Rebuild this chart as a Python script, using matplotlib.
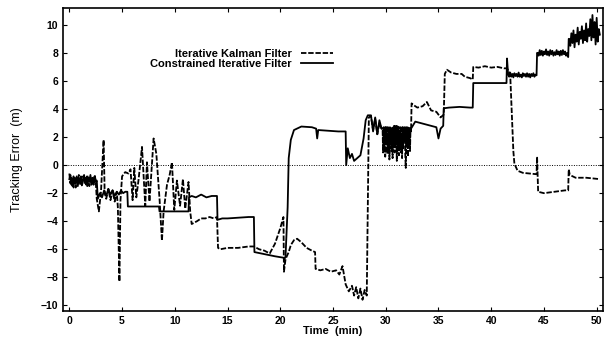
import matplotlib
matplotlib.use("Agg")
import matplotlib.pyplot as plt

# Iterative Kalman Filter (dashed), in three pieces
t_kalman_a = [0.0, 0.1, 0.2, 0.3, 0.4, 0.5, 0.6, 0.7, 0.8, 0.9, 1.0, 1.1, 1.2, 1.3,
              1.4, 1.5, 1.6, 1.7, 1.8, 1.9, 2.0, 2.1, 2.2, 2.3, 2.4, 2.5, 2.6,
              2.8, 3.0, 3.1, 3.25, 3.35, 3.5, 3.7, 3.9, 4.1, 4.3, 4.5, 4.6, 4.75, 4.85,
              5.0, 5.3, 5.6, 5.8, 6.0, 6.16, 6.35, 6.57, 6.89, 7.2, 7.36, 7.6, 7.99,
              8.25, 8.56, 8.78, 8.94, 9.26, 9.51, 9.73, 9.95, 10.2, 10.5, 10.77, 10.99,
              11.3, 11.46, 11.6, 12.1, 12.5, 12.9, 13.3, 13.7, 14.0, 14.1, 14.3, 15.0,
              16.0, 17.0, 17.5, 18.0, 18.5, 19.0, 19.5, 20.0, 20.3, 20.35, 20.5, 20.8,
              21.0, 21.3, 21.6, 22.0, 22.5, 23.0, 23.3, 23.35, 23.8, 24.3, 24.8, 25.3,
              25.6, 25.9, 26.2, 26.5, 26.8, 27.0, 27.2, 27.4, 27.6, 27.8, 28.0, 28.2,
              28.4, 28.6, 28.8, 29.0, 29.2, 29.4, 29.6]
e_kalman_a = [-0.6, -1.3, -0.9, -1.5, -0.8, -1.2, -1.6, -0.9, -1.3, -0.7, -1.4, -1.0, -1.5, -0.8,
              -1.2, -0.9, -1.4, -0.7, -1.1, -1.5, -0.8, -1.3, -0.9, -1.4, -0.7, -1.1, -2.4,
              -3.3, -1.9, -0.4, 1.8, -2.0, -2.4, -1.7, -2.5, -1.8, -2.6, -1.9, -3.0, -8.3, -2.5,
              -0.8, -0.5, -0.6, -0.3, -2.5, -0.2, -2.3, -1.0, 1.3, -2.9, 0.2, -2.6, 1.9,
              0.8, -2.5, -5.4, -3.3, -1.4, -0.7, 0.2, -3.2, -1.1, -2.9, -1.0, -3.1,
              -1.2, -3.3, -4.2, -4.0, -3.8, -3.8, -3.7, -3.8, -3.7, -5.9, -6.0, -5.9,
              -5.9, -5.8, -5.8, -6.0, -6.1, -6.3, -5.6, -4.5, -3.7, -7.6, -6.7, -6.2,
              -5.7, -5.35, -5.25, -5.5, -5.9, -6.1, -6.2, -7.4, -7.5, -7.4, -7.6, -7.5,
              -7.8, -7.2, -8.5, -9.0, -8.6, -9.3, -8.7, -9.5, -8.8, -9.6, -8.9, -9.3,
              3.4, 3.5, 2.5, 3.3, 2.2, 3.0, 2.6]
t_kalman_b = [29.70, 29.75, 29.80, 29.85, 29.90, 29.95, 30.00, 30.05, 30.10, 30.15, 30.20,
              30.25, 30.30, 30.35, 30.40, 30.45, 30.50, 30.55, 30.60, 30.65, 30.70, 30.75,
              30.80, 30.85, 30.90, 30.95, 31.00, 31.05, 31.10, 31.15, 31.20, 31.25, 31.30,
              31.35, 31.40, 31.45, 31.50, 31.55, 31.60, 31.65, 31.70, 31.75, 31.80, 31.85,
              31.90, 31.95, 32.00, 32.05, 32.10, 32.15, 32.20, 32.25, 32.30, 32.35, 32.40]
e_kalman_b = [2.6, 0.9, 2.7, 1.3, 2.5, 0.6, 2.7, 1.6, 2.6, 0.8, 2.8,
              1.2, 2.5, 0.4, 2.7, 1.5, 2.6, 1.0, 2.7, 0.5, 2.6, 1.3,
              2.8, 0.9, 2.5, 1.6, 2.7, 0.3, 2.6, 1.1, 2.7, 0.7, 2.5,
              1.4, 2.7, 0.9, 2.6, 0.5, 2.8, 1.2, 2.6, 1.7, 2.7, 0.8,
              -0.2, 2.6, 1.3, 2.7, 0.6, 2.5, 1.5, 2.7, 1.0, 2.6, 2.4]
t_kalman_c = [32.45, 32.6, 33.0, 33.5, 33.9, 34.3, 34.8, 35.2, 35.5, 35.6, 35.8, 36.2,
              36.7, 37.2, 37.5, 38.0, 38.25, 38.3, 38.8, 39.4, 40.0, 40.6, 41.2, 41.5,
              41.8, 42.1, 42.2, 42.5, 43.0, 43.7, 44.3, 44.35, 44.45, 45.0, 46.0, 47.0,
              47.3, 47.35, 47.45, 48.0, 49.0, 50.3]
e_kalman_c = [4.4, 4.3, 4.1, 4.2, 4.5, 3.9, 3.8, 3.4, 3.6, 6.5, 6.8, 6.6,
              6.5, 6.5, 6.3, 6.2, 6.1, 7.0, 6.95, 7.05, 6.95, 7.0, 6.9, 6.9,
              6.5, 1.0, 0.1, -0.4, -0.55, -0.6, -0.65, 0.6, -1.9, -2.0, -1.9, -1.8,
              -1.8, -0.3, -0.7, -0.9, -0.9, -1.0]

# Constrained Iterative Filter (solid)
t_constr_a = [0.0, 0.1, 0.2, 0.3, 0.4, 0.5, 0.6, 0.7, 0.8, 0.9, 1.0, 1.1, 1.2, 1.3,
              1.4, 1.5, 1.6, 1.7, 1.8, 1.9, 2.0, 2.1, 2.2, 2.3, 2.4, 2.5, 2.6,
              2.7, 2.9, 3.1, 3.3, 3.5, 3.7, 3.9, 4.1, 4.3, 4.5, 4.7, 4.9, 5.1, 5.3, 5.5,
              5.55, 8.5, 8.55, 11.3, 11.35, 11.6, 12.0, 12.5, 13.0, 13.5, 14.0, 14.05,
              14.5, 15.0, 16.0, 17.0, 17.5, 17.55, 18.5, 19.5, 20.3, 20.4, 20.5, 20.7,
              20.8, 21.0, 21.3, 22.0, 23.0, 23.4, 23.5, 23.6, 24.5, 25.5, 26.2, 26.25,
              26.4, 26.6, 26.8, 27.0, 27.3, 27.6, 27.9, 28.1, 28.3, 28.6, 28.8, 29.0,
              29.2, 29.4, 29.6, 30.0, 30.5, 31.0, 31.5, 32.0, 32.4, 32.8, 33.3, 33.8,
              34.3, 34.8, 35.0, 35.2, 35.45, 35.5, 36.0, 37.0, 38.0, 38.25, 38.3, 41.45,
              41.5]
e_constr_a = [-1.0, -0.7, -1.4, -1.1, -1.6, -0.9, -1.3, -0.8, -1.5, -1.0, -1.2, -0.8, -1.4, -1.1,
              -0.7, -1.3, -1.0, -1.5, -0.9, -1.2, -0.7, -1.4, -1.0, -1.3, -0.8, -1.2, -1.1,
              -2.4, -2.0, -2.3, -1.8, -2.2, -1.7, -2.1, -1.8, -2.2, -1.9, -2.1, -1.8, -2.0, -1.9, -1.9,
              -2.95, -2.95, -3.3, -3.3, -2.3, -2.2, -2.3, -2.1, -2.3, -2.2, -2.2, -3.9,
              -3.8, -3.8, -3.75, -3.7, -3.7, -6.2, -6.35, -6.5, -6.6, -6.7, -6.5, -3.0,
              0.5, 1.8, 2.5, 2.75, 2.7, 2.6, 1.9, 2.5, 2.45, 2.4, 2.4, 0.0,
              1.2, 0.5, 0.8, 0.3, 0.5, 0.7, 1.9, 3.2, 3.55, 3.55, 2.4, 3.4,
              2.2, 3.2, 2.6, 2.7, 2.6, 2.8, 2.6, 2.7, 2.6, 3.1, 3.0, 2.9,
              2.8, 2.7, 1.9, 2.6, 2.8, 4.05, 4.1, 4.15, 4.1, 4.1, 5.85, 5.85,
              7.6]
t_constr_b = [41.6, 41.7, 41.8, 41.9, 42.0, 42.1, 42.2, 42.3, 42.4, 42.5, 42.6, 42.7, 42.8,
              42.9, 43.0, 43.1, 43.2, 43.3, 43.4, 43.5, 43.6, 43.7, 43.8, 43.9, 44.0, 44.1,
              44.2, 44.3]
e_constr_b = [6.5, 6.3, 6.6, 6.3, 6.5, 6.25, 6.55, 6.35, 6.5, 6.3, 6.6, 6.3, 6.45,
              6.25, 6.55, 6.35, 6.5, 6.3, 6.55, 6.3, 6.5, 6.25, 6.5, 6.35, 6.55, 6.3,
              6.45, 6.4]
t_constr_c = [44.35, 44.4, 44.5, 44.6, 44.7, 44.8, 44.9, 45.0, 45.1, 45.2, 45.3, 45.4, 45.5,
              45.6, 45.7, 45.8, 45.9, 46.0, 46.1, 46.2, 46.3, 46.4, 46.5, 46.6, 46.7, 46.8,
              46.9, 47.0, 47.1, 47.2, 47.3]
e_constr_c = [8.0, 8.0, 7.8, 8.2, 7.85, 8.15, 7.8, 8.1, 7.9, 8.25, 7.85, 8.1, 7.8,
              8.2, 7.9, 8.15, 7.8, 8.05, 7.85, 8.2, 7.9, 8.1, 7.8, 8.15, 7.85, 8.2,
              7.9, 8.1, 7.8, 8.0, 7.7]
t_constr_d = [47.35, 47.4, 47.5, 47.6, 47.7, 47.8, 47.9, 48.0, 48.1, 48.2, 48.3, 48.4, 48.5,
              48.6, 48.7, 48.8, 48.9, 49.0, 49.1, 49.2, 49.3, 49.4, 49.5, 49.6, 49.7, 49.8,
              49.9, 50.0, 50.1, 50.2, 50.3]
e_constr_d = [9.0, 9.0, 8.5, 9.4, 8.7, 9.6, 8.4, 9.3, 8.8, 9.8, 8.6, 9.5, 9.0,
              9.9, 8.7, 9.6, 8.9, 10.1, 8.8, 9.7, 9.2, 10.4, 8.9, 10.7, 9.1, 10.2,
              8.6, 10.5, 8.8, 9.7, 9.3]

t_kalman = t_kalman_a + t_kalman_b + t_kalman_c
e_kalman = e_kalman_a + e_kalman_b + e_kalman_c
t_constr = t_constr_a + t_constr_b + t_constr_c + t_constr_d
e_constr = e_constr_a + e_constr_b + e_constr_c + e_constr_d

plt.rcParams['font.family'] = ['Liberation Sans', 'DejaVu Sans']

fig = plt.figure(figsize=(6.07, 3.39), dpi=100)
ax = fig.add_axes([0.1038, 0.0826, 0.8896, 0.8938])

ax.axhline(0, color='black', linestyle=(0, (1, 1.5)), linewidth=0.7)
ax.plot(t_kalman, e_kalman, color='black', linestyle=(0, (3, 1)), linewidth=1.3,
        label='Iterative Kalman Filter')
ax.plot(t_constr, e_constr, color='black', linestyle='-', linewidth=1.3,
        label='Constrained Iterative Filter')

ax.set_xlim(-0.6, 50.6)
ax.set_ylim(-10.4, 11.2)
ax.set_xticks(range(0, 51, 5))
ax.set_yticks(range(-10, 11, 2))
ax.tick_params(direction='in', top=True, right=True, length=3, width=0.8,
               labelsize=7.5)
for lab in ax.get_xticklabels() + ax.get_yticklabels():
    lab.set_fontweight('bold')
for s in ax.spines.values():
    s.set_linewidth(1.2)

ax.set_xlabel('Time  (min)', fontsize=8, fontweight='bold', labelpad=0)
ax.set_ylabel('Tracking Error  (m)', fontsize=9, labelpad=13)

ax.legend(loc='upper right', bbox_to_anchor=(0.514, 0.89), frameon=False,
          markerfirst=False, prop={'size': 8, 'weight': 'bold'},
          handlelength=2.9, handletextpad=0.8, labelspacing=0.0, borderpad=0.2)

fig.savefig('out.png', dpi=100)
